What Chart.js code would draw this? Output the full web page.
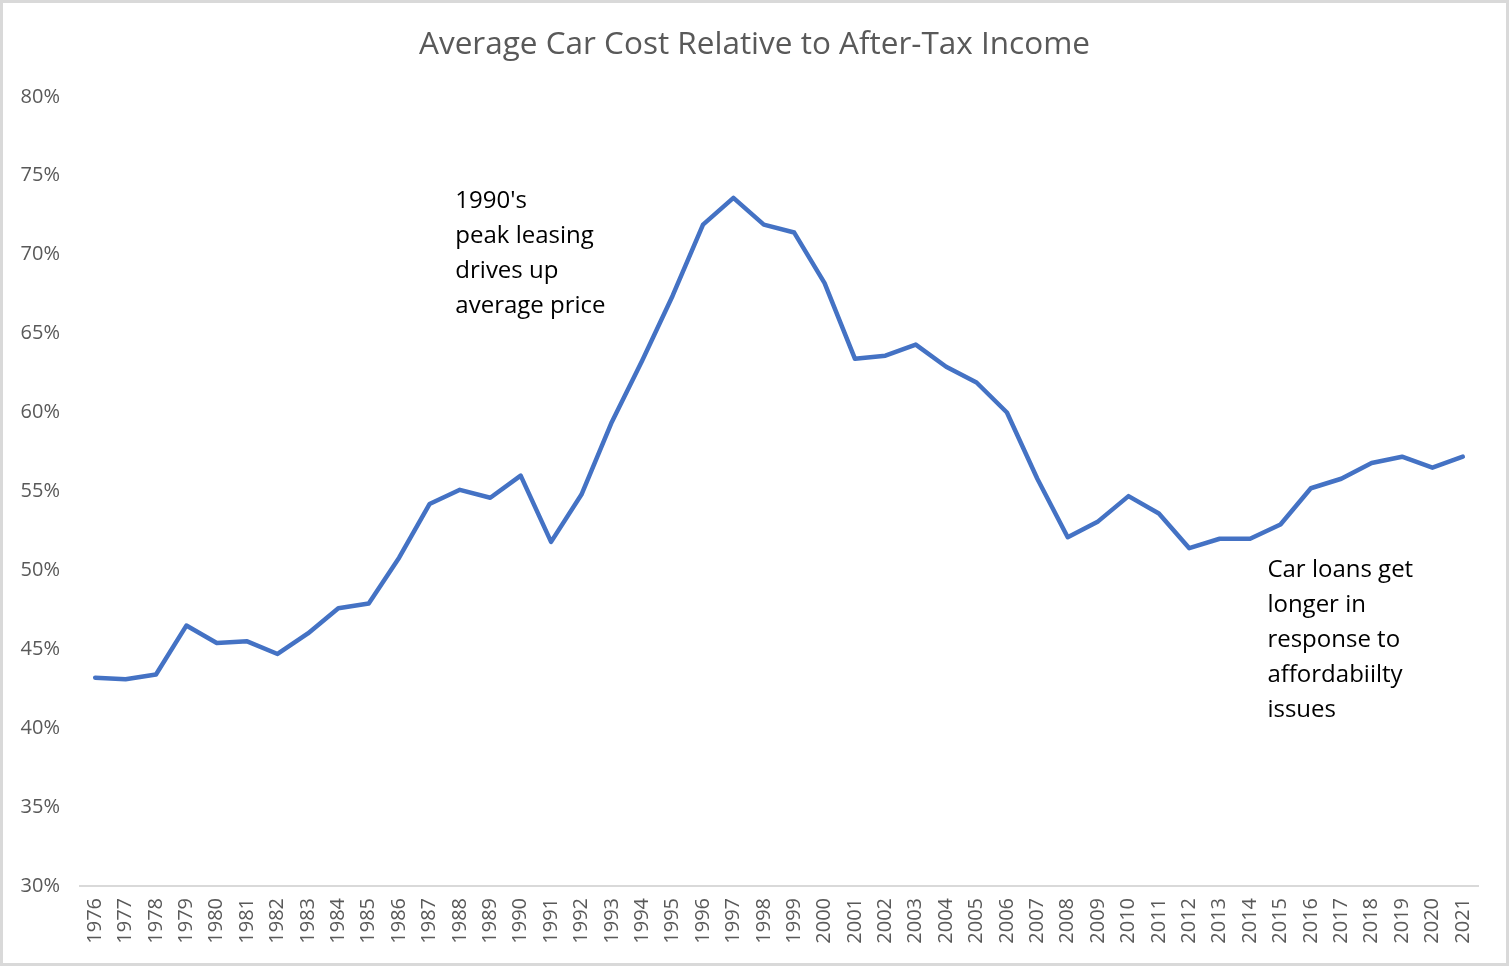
<!DOCTYPE html>
<html>
<head>
<meta charset="utf-8">
<script src="https://cdn.jsdelivr.net/npm/chart.js@4/dist/chart.umd.min.js"></script>
<style>
  html, body { margin: 0; padding: 0; background: #fff; }
  #wrap { width: 1509px; height: 966px; box-sizing: border-box; border: 3px solid #d9d9d9; background: #fff; }
  canvas { display: block; }
</style>
</head>
<body>
<div id="wrap"><canvas id="c" width="1503" height="960"></canvas></div>
<script>
const years = ['1976','1977','1978','1979','1980','1981','1982','1983','1984','1985','1986','1987','1988','1989','1990','1991','1992','1993','1994','1995','1996','1997','1998','1999','2000','2001','2002','2003','2004','2005','2006','2007','2008','2009','2010','2011','2012','2013','2014','2015','2016','2017','2018','2019','2020','2021'];
const costPct = [43.2,43.1,43.4,46.5,45.4,45.5,44.7,46.0,47.6,47.9,50.8,54.2,55.1,54.6,56.0,51.8,54.8,59.4,63.3,67.4,71.9,73.6,71.9,71.4,68.2,63.4,63.6,64.3,62.9,61.9,60.0,55.8,52.1,53.1,54.7,53.6,51.4,52.0,52.0,52.9,55.2,55.8,56.8,57.2,56.5,57.2];
const yTickMin = 30, yTickMax = 80, yTickStep = 5;
const titleText = 'Average Car Cost Relative to After-Tax Income';
const note1Lines = ["1990's", 'peak leasing', 'drives up', 'average price'];
const note2Lines = ['Car loans get', 'longer in', 'response to', 'affordabiilty', 'issues'];
const notes = [
  { lines: note1Lines, at: 11.85, value: 73.4 },
  { lines: note2Lines, at: 38.57, value: 50.0 }
];

const notePlugin = {
  id: 'notes',
  afterDatasetsDraw(chart) {
    const ctx = chart.ctx;
    const xs = chart.scales.x, ys = chart.scales.y;
    ctx.save();
    ctx.fillStyle = '#000';
    ctx.font = '24px "Open Sans"';
    ctx.textAlign = 'left';
    ctx.textBaseline = 'middle';
    notes.forEach(n => {
      const x = xs.getPixelForValue(n.at);
      const y0 = ys.getPixelForValue(n.value);
      n.lines.forEach((t, i) => ctx.fillText(t, x, y0 + i * 35));
    });
    ctx.restore();
  }
};

new Chart(document.getElementById('c'), {
  type: 'line',
  data: {
    labels: years,
    datasets: [{
      data: costPct,
      borderColor: '#4472C4',
      borderWidth: 4.5,
      pointRadius: 0,
      tension: 0,
      fill: false,
      borderCapStyle: 'round',
      borderJoinStyle: 'round'
    }]
  },
  options: {
    responsive: false,
    animation: false,
    layout: { padding: { left: 0, right: 0, top: 0, bottom: 0 } },
    plugins: {
      legend: { display: false },
      tooltip: { enabled: false },
      title: {
        display: true,
        text: titleText,
        color: '#595959',
        font: { family: 'Open Sans', size: 31.5, weight: 'normal', lineHeight: 1.2 },
        padding: { top: 23, bottom: 33 }
      }
    },
    scales: {
      x: {
        offset: true,
        grid: { display: false, drawTicks: false },
        border: { display: true, color: '#d9d9d9', width: 2 },
        ticks: {
          color: '#595959',
          font: { family: 'Open Sans', size: 20 },
          minRotation: 90, maxRotation: 90,
          autoSkip: false,
          padding: 12
        },
        afterFit(s) { s.height = 77; }
      },
      y: {
        min: yTickMin, max: yTickMax,
        grid: { display: false, drawTicks: false },
        border: { display: false },
        ticks: {
          stepSize: yTickStep,
          color: '#595959',
          font: { family: 'Open Sans', size: 20 },
          padding: 20,
          callback: v => v + '%'
        },
        afterFit(s) { s.width = 77; }
      },
      yRight: {
        position: 'right',
        display: true,
        grid: { display: false, drawTicks: false },
        border: { display: false },
        ticks: { display: false },
        afterFit(s) { s.width = 28; }
      }
    }
  },
  plugins: [notePlugin]
});
</script>
</body>
</html>
